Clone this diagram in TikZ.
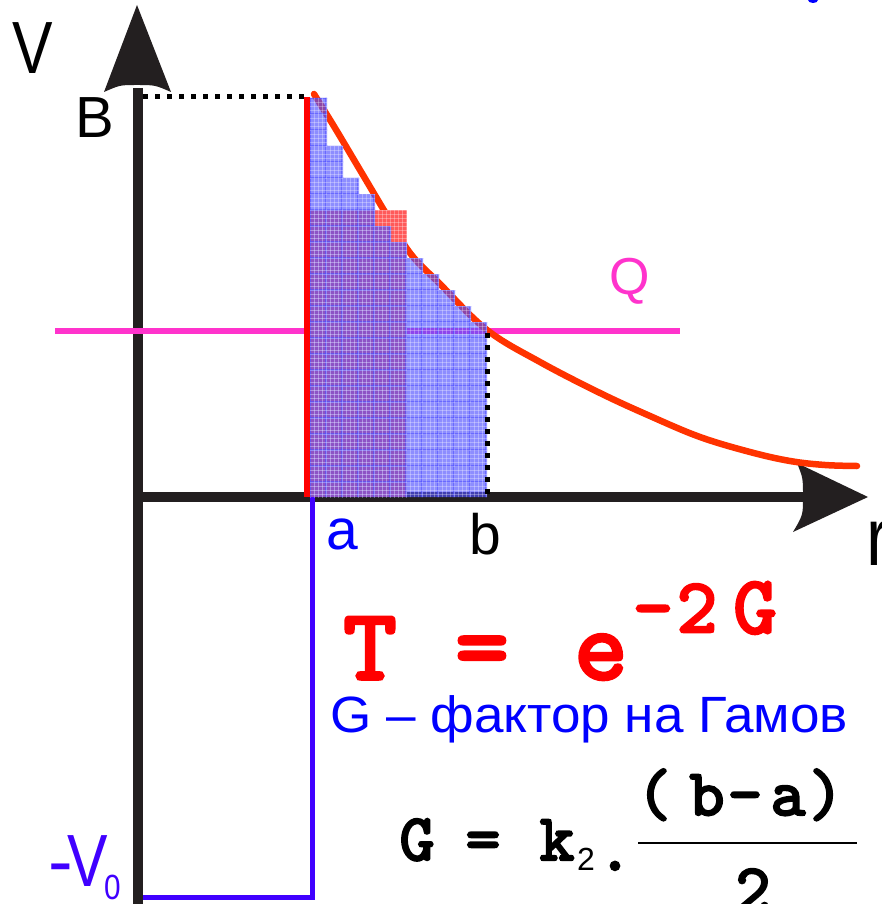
\documentclass[tikz,border=0pt]{standalone}
\usepackage{fontspec}
\setmainfont{Liberation Sans}
\newfontfamily\cour{lmmono10-regular}[Extension=.otf,FakeBold=3.5]
\newcommand\setfs[1]{\fontsize{#1}{#1}\selectfont}
\definecolor{axisc}{RGB}{35,31,32}
\definecolor{curvec}{RGB}{255,51,0}
\definecolor{magc}{RGB}{255,51,204}
\definecolor{wellc}{RGB}{64,0,255}
\definecolor{txtblue}{RGB}{0,0,255}
\definecolor{hatchb}{RGB}{80,80,255}
\definecolor{hatchr}{RGB}{255,90,90}
\begin{document}
\begin{tikzpicture}[x=1pt,y=-1pt,
  axisline/.style={draw=axisc,line width=10pt},
  arrowhead/.style={fill=axisc},
  dotline/.style={draw=black,line width=5pt,dash pattern=on 5pt off 7pt},
  lbl/.style={inner sep=0pt,anchor=base west},
  ch/.style={inner sep=0pt,anchor=base},
  gridl/.style={draw=hatchb,line width=1.2pt,opacity=0.6},
  fine/.style={draw=white,line width=0.8pt,opacity=0.3}]
\useasboundingbox (0,0) rectangle (881,904);
% axes
\draw[axisline] (138,88) -- (138,910);
\draw[axisline] (133,497) -- (805,497);
\fill[arrowhead] (137,5) -- (171,92) .. controls (155,85) .. (137,85) .. controls (120,85) .. (104,92) -- cycle;
\fill[arrowhead] (868,497) -- (797,463) .. controls (803,478) .. (803,497) .. controls (803,515) .. (793,532) -- cycle;
% lines
\draw[magc,line width=6pt] (55,331) -- (680,331);
\draw[red,line width=6pt] (307,97) -- (307,497);
\draw[wellc,line width=5pt,line join=miter] (312,497) -- (312,897) -- (143,897);
\draw[curvec,line width=6.5pt,line cap=round] plot[smooth,tension=0.6] coordinates
  {(314,94) (335,128) (360,170) (385,212) (410,253) (440,284) (487,330) (540,362) (600,393) (650,416) (700,437) (750,452) (790,461) (825,465) (857,466)};
% hatched regions
\fill[hatchr] (310,210) rectangle (407,497);
\begin{scope}
\clip (310,210) rectangle (407,497);
\foreach \i in {310,314,...,407} \draw[fine] (\i,200) -- (\i,500);
\foreach \j in {210,214,...,497} \draw[fine] (300,\j) -- (410,\j);
\end{scope}
\def\stairs{(310,497) -- (310,98) -- (327,98) -- (327,146) -- (343,146) -- (343,178) -- (359,178) -- (359,194) -- (375,194) -- (375,226) -- (391,226) -- (391,242) -- (407,242) -- (407,258) -- (423,258) -- (423,274) -- (439,274) -- (439,290) -- (455,290) -- (455,306) -- (471,306) -- (471,322) -- (487,322) -- (487,497) -- cycle}
\fill[hatchb,opacity=0.65] \stairs;
\begin{scope}
\clip \stairs;
\foreach \i in {310,326,...,487} \draw[gridl] (\i,90) -- (\i,500);
\foreach \j in {98,114,...,497} \draw[gridl] (300,\j) -- (490,\j);
\foreach \i in {314,318,...,487} \draw[fine] (\i,90) -- (\i,500);
\foreach \j in {102,106,...,497} \draw[fine] (300,\j) -- (490,\j);
\end{scope}
% dotted lines
\draw[dotline] (143,97) -- (305,97);
\draw[dotline] (487,333) -- (487,497);
% stray blue mark at top
\fill[txtblue] (813,0) ellipse [x radius=5pt,y radius=3pt];
% labels
\node[lbl,font=\setfs{74}] (V) at (12,74) {\scalebox{0.82}[1]{V}};
\node[lbl,font=\setfs{58}] (B) at (75,138) {B};
\node[lbl,font=\setfs{57},text=txtblue] (a) at (326,549) {a};
\node[lbl,font=\setfs{57}] (b) at (469,554) {b};
\node[lbl,font=\setfs{52},text=magc] (Q) at (609,294) {Q};
\node[lbl,font=\setfs{82}] (r) at (866,565) {\scalebox{0.85}[1]{r}};
\node[lbl,font=\setfs{74},text=wellc] (mVm) at (48,886) {-};
\node[lbl,font=\setfs{74},text=wellc] (mV) at (67,886) {\scalebox{0.82}[1]{V}};
\node[lbl,font=\setfs{35},text=wellc] (mV0) at (104,899) {\scalebox{0.85}[1]{0}};
% T = e^{-2G}
\node[ch,font=\cour\setfs{101},text=red] (T) at (370,679) {T};
\node[ch,font=\cour\setfs{101},text=red] (eq) at (482,679) {=};
\node[ch,font=\cour\setfs{101},text=red] (e) at (601,679) {e};
\node[ch,font=\cour\setfs{77},text=red] (em) at (653,632) {-};
\node[ch,font=\cour\setfs{77},text=red] (e2) at (697,632) {2};
\node[ch,font=\cour\setfs{82},text=red] (eG) at (755,633) {G};
\node[lbl,font=\setfs{51},text=txtblue] (gam) at (330,732) {\scalebox{1.04}[1]{G – фактор на Гамов}};
% G = k2 . (b-a)/2
\node[ch,font=\cour\setfs{66}] (G) at (417,860) {G};
\node[ch,font=\cour\setfs{66}] (Geq) at (483,860) {=};
\node[ch,font=\cour\setfs{66}] (k) at (557,860) {k};
\node[lbl,font=\setfs{32}] (k2) at (577,870) {2};
\node[ch,font=\cour\setfs{66}] (dot) at (615,870) {.};
\node[ch,font=\cour\setfs{66}] (lp) at (654,815) {(};
\node[ch,font=\cour\setfs{66}] (nb) at (707,815) {b};
\node[ch,font=\cour\setfs{66}] (nm) at (745,815) {-};
\node[ch,font=\cour\setfs{66}] (na) at (788,815) {a};
\node[ch,font=\cour\setfs{66}] (rp) at (826,815) {)};
\draw[black,line width=1.5pt] (638,843) -- (857,843);
\node[ch,font=\cour\setfs{66}] (den) at (753,910) {2};
\end{tikzpicture}
\end{document}
